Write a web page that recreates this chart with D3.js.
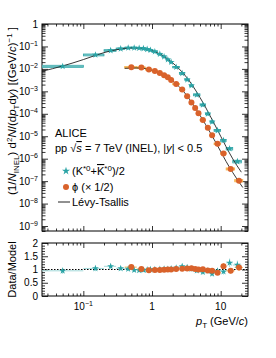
<!DOCTYPE html>
<html>
<head>
<meta charset="utf-8">
<script src="https://cdn.jsdelivr.net/npm/d3@7"></script>
<style>
  body { margin: 0; background: #fff; }
  text { font-family: "Liberation Sans", Arial, sans-serif; fill: #000; }
</style>
</head>
<body>
<div id="chart"></div>
<script>
// K*0 bins (GeV/c), values (dN/dpTdy), relative syst. and Data/Model
const kEdges = [0, 0.1, 0.2, 0.3, 0.4, 0.5, 0.6, 0.7, 0.8, 0.9, 1.0, 1.2, 1.4, 1.6, 1.8, 2.0,
                2.5, 3.0, 3.5, 4.0, 5.0, 6.0, 7.0, 8.0, 10, 12, 15, 20]
const kVal = [0.0130, 0.042, 0.066, 0.079, 0.086, 0.087, 0.085, 0.081, 0.075, 0.069, 0.059,
              0.046, 0.035, 0.026, 0.020, 0.012, 0.0063, 0.0033, 0.0018, 7.0e-4, 2.5e-4,
              1.0e-4, 4.4e-5, 1.8e-5, 6.5e-6, 2.8e-6, 7.5e-7]
const kSys = [0.12, 0.10, 0.09, 0.08, 0.08, 0.08, 0.08, 0.08, 0.08, 0.08, 0.08, 0.08, 0.08,
              0.08, 0.08, 0.08, 0.09, 0.09, 0.09, 0.10, 0.10, 0.10, 0.11, 0.11, 0.12, 0.13, 0.14]
const kRatio = [0.95, 1.04, 1.12, 1.04, 1.02, 0.98, 0.97, 0.98, 0.99, 1.00, 1.00, 1.01, 1.02,
                1.01, 1.03, 1.06, 1.12, 1.08, 1.02, 0.96, 0.90, 0.95, 0.84, 0.95, 0.92, 1.25, 1.17]

// phi bins, values (x 1/2), relative syst. and Data/Model
const phiEdges = [0.4, 0.6, 0.8, 1.0, 1.2, 1.4, 1.6, 1.8, 2.0, 2.5, 3.0, 3.5, 4.0, 4.5, 5.0,
                  6.0, 7.0, 8.0, 10, 12, 16, 21]
const phiVal = [0.0118, 0.0114, 0.0094, 0.0080, 0.0065, 0.0052, 0.0042, 0.0032, 0.0021, 0.0012,
                6.0e-4, 3.2e-4, 1.8e-4, 1.05e-4, 5.3e-5, 2.4e-5, 1.1e-5, 4.6e-6, 1.7e-6,
                3.5e-7, 1.05e-7]
const phiSys = [0.09, 0.08, 0.07, 0.07, 0.07, 0.07, 0.07, 0.07, 0.07, 0.07, 0.07, 0.07, 0.08,
                0.08, 0.08, 0.08, 0.09, 0.09, 0.10, 0.11, 0.12]
const phiRatio = [1.09, 1.02, 0.97, 0.98, 0.98, 0.99, 1.00, 1.00, 1.02, 1.03, 1.04, 1.05, 1.02,
                  1.00, 1.01, 0.96, 0.95, 0.88, 1.12, 0.95, 1.08]

// Levy-Tsallis curves
const kFitPt = [0.025, 0.05, 0.1, 0.15, 0.2, 0.3, 0.4, 0.5, 0.6, 0.7, 0.8, 1.0, 1.2, 1.5, 2.0,
                2.5, 3.0, 3.5, 4.0, 5.0, 6.0, 7.0, 8.0, 10, 12, 15, 20]
const kFitVal = [0.0078, 0.0135, 0.026, 0.040, 0.053, 0.071, 0.082, 0.087, 0.087, 0.085, 0.080,
                 0.066, 0.052, 0.036, 0.0185, 0.0098, 0.0053, 0.0029, 0.0016, 5.3e-4, 2.0e-4,
                 8.2e-5, 3.8e-5, 1.0e-5, 3.4e-6, 9.8e-7, 2.5e-7]
const phiFitPt = [0.4, 0.5, 0.6, 0.7, 0.8, 1.0, 1.2, 1.5, 2.0, 2.5, 3.0, 3.5, 4.0, 5.0, 6.0,
                  7.0, 8.0, 10, 12, 15, 21]
const phiFitVal = [0.0106, 0.0109, 0.0110, 0.0108, 0.0103, 0.0087, 0.0073, 0.0052, 0.0029,
                   0.0016, 8.5e-4, 4.5e-4, 2.5e-4, 8.5e-5, 3.4e-5, 1.5e-5, 7.3e-6, 2.1e-6,
                   7.5e-7, 2.4e-7, 5.2e-8]

// ticks
const yTopExp = [0, -1, -2, -3, -4, -5, -6, -7, -8, -9]
const ratioTicks = [0, 0.5, 1, 1.5, 2]
const xMajor = [0.1, 1, 10]
const xMajorLab = [["10", "\u22121"], ["1", ""], ["10", ""]]

const TEAL = "#2aa3a5", TEAL_BOX = "#a3dada"
const ORANGE = "#d9622b", ORANGE_BOX = "#f7b24a"

const L = 42, R = 248, T1 = 24, B1 = 231, T2 = 243, B2 = 296

const svg = d3.select("#chart").append("svg")
  .attr("width", 276)
  .attr("height", 358)

const x = d3.scaleLog().domain([0.025, 25]).range([L, R])
const y = d3.scaleLog().domain([6e-10, 1]).range([B1, T1])
const yR = d3.scaleLinear().domain([0, 2]).range([B2, T2])

const defs = svg.append("defs")
defs.append("clipPath").attr("id", "clipTop").append("rect")
  .attr("x", L).attr("y", T1).attr("width", R - L).attr("height", B1 - T1)
defs.append("clipPath").attr("id", "clipBot").append("rect")
  .attr("x", L).attr("y", T2).attr("width", R - L).attr("height", B2 - T2)

// log minor tick values
function logMinor(lo, hi) {
  const out = []
  for (let e = Math.floor(Math.log10(lo)); e <= Math.ceil(Math.log10(hi)); e++) {
    for (let m = 2; m <= 9; m++) {
      const v = m * Math.pow(10, e)
      if (v >= lo && v <= hi) out.push(v)
    }
  }
  return out
}
const xMinor = logMinor(0.025, 25)
const yMinor = logMinor(6e-10, 1)
const rMinor = d3.range(0, 2.001, 0.1).filter(v => ratioTicks.indexOf(Math.round(v * 10) / 10) < 0)

function ticks(axis, vals, size, tx, ty) {
  const g = svg.append("g")
    .attr("transform", `translate(${tx},${ty})`)
    .call(axis.tickValues(vals).tickSize(-size).tickFormat(""))
  g.select(".domain").remove()
  g.selectAll("line").attr("stroke", "#000").attr("stroke-width", 0.8)
}

// top panel ticks
ticks(d3.axisBottom(x), xMajor, 5, 0, B1)
ticks(d3.axisBottom(x), xMinor, 2.5, 0, B1)
ticks(d3.axisTop(x), xMajor, 5, 0, T1)
ticks(d3.axisTop(x), xMinor, 2.5, 0, T1)
ticks(d3.axisLeft(y), yTopExp.map(e => Math.pow(10, e)), 6, L, 0)
ticks(d3.axisLeft(y), yMinor, 3.5, L, 0)
ticks(d3.axisRight(y), yTopExp.map(e => Math.pow(10, e)), 6, R, 0)
ticks(d3.axisRight(y), yMinor, 3.5, R, 0)

// bottom panel ticks
ticks(d3.axisBottom(x), xMajor, 5, 0, B2)
ticks(d3.axisBottom(x), xMinor, 2.5, 0, B2)
ticks(d3.axisTop(x), xMajor, 5, 0, T2)
ticks(d3.axisTop(x), xMinor, 2.5, 0, T2)
ticks(d3.axisLeft(yR), ratioTicks, 6, L, 0)
ticks(d3.axisLeft(yR), rMinor, 3, L, 0)
ticks(d3.axisRight(yR), ratioTicks, 6, R, 0)
ticks(d3.axisRight(yR), rMinor, 3, R, 0)

// frames
svg.append("rect").attr("x", L).attr("y", T1).attr("width", R - L).attr("height", B1 - T1)
  .attr("fill", "none").attr("stroke", "#000").attr("stroke-width", 1)
svg.append("rect").attr("x", L).attr("y", T2).attr("width", R - L).attr("height", B2 - T2)
  .attr("fill", "none").attr("stroke", "#000").attr("stroke-width", 1)

// y tick labels, top panel
yTopExp.forEach(e => {
  const t = svg.append("text")
    .attr("x", 38).attr("y", y(Math.pow(10, e)) + 3.5)
    .attr("text-anchor", "end").attr("font-size", 10)
  if (e === 0) { t.text("1"); return }
  t.append("tspan").text("10")
  t.append("tspan").attr("dy", -4).attr("font-size", 7).text("\u2212" + (-e))
})

// y tick labels, ratio panel
ratioTicks.forEach(v => {
  svg.append("text")
    .attr("x", 38).attr("y", yR(v) + 3.5)
    .attr("text-anchor", "end").attr("font-size", 10)
    .text(v)
})

// x tick labels
xMajor.forEach((v, i) => {
  const t = svg.append("text")
    .attr("x", x(v)).attr("y", 310)
    .attr("text-anchor", "middle").attr("font-size", 10)
  t.append("tspan").text(xMajorLab[i][0])
  if (xMajorLab[i][1]) t.append("tspan").attr("dy", -4).attr("font-size", 7).text(xMajorLab[i][1])
})

// axis titles
const xt = svg.append("text").attr("x", R).attr("y", 325).attr("text-anchor", "end").attr("font-size", 11)
xt.append("tspan").attr("font-style", "italic").text("p")
xt.append("tspan").attr("dy", 3).attr("font-size", 8).text("T")
xt.append("tspan").attr("dy", -3).text(" (GeV/")
xt.append("tspan").attr("font-style", "italic").text("c")
xt.append("tspan").text(")")

const yt = svg.append("text")
  .attr("transform", "translate(16,27) rotate(-90)")
  .attr("text-anchor", "end").attr("font-size", 11.5)
yt.append("tspan").text("(1/")
yt.append("tspan").attr("font-style", "italic").text("N")
yt.append("tspan").attr("dy", 3).attr("font-size", 8).text("INEL")
yt.append("tspan").attr("dy", -3).text(") d")
yt.append("tspan").attr("dy", -4).attr("font-size", 8).text("2")
yt.append("tspan").attr("dy", 4).attr("font-style", "italic").text("N")
yt.append("tspan").text("/(d")
yt.append("tspan").attr("font-style", "italic").text("p")
yt.append("tspan").attr("dy", 3).attr("font-size", 8).text("T")
yt.append("tspan").attr("dy", -3).text("d")
yt.append("tspan").attr("font-style", "italic").text("y")
yt.append("tspan").text(") [(GeV/")
yt.append("tspan").attr("font-style", "italic").text("c")
yt.append("tspan").text(")")
yt.append("tspan").attr("dy", -4).attr("font-size", 8).text("\u22121")
yt.append("tspan").attr("dy", 4).text(" ]")

svg.append("text")
  .attr("transform", `translate(16,${(T2 + B2) / 2}) rotate(-90)`)
  .attr("text-anchor", "middle").attr("font-size", 11)
  .text("Data/Model")

// data
const kData = kVal.map((v, i) => ({
  lo: Math.max(kEdges[i], 0.001), hi: kEdges[i + 1],
  pt: kEdges[i] === 0 ? (kEdges[i + 1]) / 2 : (kEdges[i] + kEdges[i + 1]) / 2,
  v: v, s: kSys[i], r: kRatio[i]
}))
const phiData = phiVal.map((v, i) => ({
  lo: phiEdges[i], hi: phiEdges[i + 1], pt: (phiEdges[i] + phiEdges[i + 1]) / 2,
  v: v, s: phiSys[i], r: phiRatio[i]
}))

const gTop = svg.append("g").attr("clip-path", "url(#clipTop)")
const gBot = svg.append("g").attr("clip-path", "url(#clipBot)")

// ratio reference line
gBot.append("line")
  .attr("x1", L).attr("x2", R).attr("y1", yR(1)).attr("y2", yR(1))
  .attr("stroke", "#000").attr("stroke-width", 1).attr("stroke-dasharray", "1.5,1.5")

// syst. boxes (top panel)
function boxes(g, data, fill, stroke) {
  g.selectAll(null).data(data).enter().append("rect")
    .attr("x", d => x(d.lo))
    .attr("width", d => x(d.hi) - x(d.lo))
    .attr("y", d => y(d.v * (1 + d.s)))
    .attr("height", d => y(d.v * (1 - d.s)) - y(d.v * (1 + d.s)))
    .attr("fill", fill).attr("fill-opacity", 0.8)
    .attr("stroke", stroke).attr("stroke-width", 0.7)
  g.selectAll(null).data(data).enter().append("line")
    .attr("x1", d => x(d.lo)).attr("x2", d => x(d.hi))
    .attr("y1", d => y(d.v)).attr("y2", d => y(d.v))
    .attr("stroke", stroke).attr("stroke-width", 0.7)
}
boxes(gTop, kData, TEAL_BOX, TEAL)
boxes(gTop, phiData, ORANGE_BOX, ORANGE_BOX)

// ratio error bars
function bars(g, data, color) {
  g.selectAll(null).data(data).enter().append("line")
    .attr("x1", d => x(d.lo)).attr("x2", d => x(d.hi))
    .attr("y1", d => yR(d.r)).attr("y2", d => yR(d.r))
    .attr("stroke", color).attr("stroke-width", 1)
  g.selectAll(null).data(data).enter().append("line")
    .attr("x1", d => x(d.pt)).attr("x2", d => x(d.pt))
    .attr("y1", d => yR(d.r * (1 - d.s))).attr("y2", d => yR(d.r * (1 + d.s)))
    .attr("stroke", color).attr("stroke-width", 1)
}
bars(gBot, kData, TEAL_BOX)
bars(gBot, phiData, ORANGE_BOX)

// Levy-Tsallis
const line = d3.line().x(d => x(d[0])).y(d => y(d[1])).curve(d3.curveMonotoneX)
gTop.append("path").datum(kFitPt.map((p, i) => [p, kFitVal[i]]))
  .attr("d", line).attr("fill", "none").attr("stroke", "#222").attr("stroke-width", 0.9)
gTop.append("path").datum(phiFitPt.map((p, i) => [p, phiFitVal[i]]))
  .attr("d", line).attr("fill", "none").attr("stroke", "#222").attr("stroke-width", 0.9)

// markers
const star = d3.symbol().type(d3.symbolStar).size(15)
gTop.selectAll(null).data(kData).enter().append("path")
  .attr("d", star).attr("transform", d => `translate(${x(d.pt)},${y(d.v)})`)
  .attr("fill", TEAL)
gTop.selectAll(null).data(phiData).enter().append("circle")
  .attr("cx", d => x(d.pt)).attr("cy", d => y(d.v)).attr("r", 3)
  .attr("fill", ORANGE)
gBot.selectAll(null).data(kData).enter().append("path")
  .attr("d", star).attr("transform", d => `translate(${x(d.pt)},${yR(d.r)})`)
  .attr("fill", TEAL)
gBot.selectAll(null).data(phiData).enter().append("circle")
  .attr("cx", d => x(d.pt)).attr("cy", d => yR(d.r)).attr("r", 3)
  .attr("fill", ORANGE)

// legend
svg.append("text").attr("x", 55).attr("y", 137).attr("font-size", 11).text("ALICE")
const pp = svg.append("text").attr("x", 55).attr("y", 152).attr("font-size", 11)
pp.append("tspan").text("pp \u221A")
pp.append("tspan").attr("font-style", "italic").attr("text-decoration", "overline").text("s")
pp.append("tspan").text(" = 7 TeV (INEL), |")
pp.append("tspan").attr("font-style", "italic").text("y")
pp.append("tspan").text("| < 0.5")

svg.append("path").attr("d", d3.symbol().type(d3.symbolStar).size(20)).attr("transform", "translate(66,171)").attr("fill", TEAL)
const kl = svg.append("text").attr("x", 72).attr("y", 175).attr("font-size", 11)
kl.append("tspan").text("(K")
kl.append("tspan").attr("dy", -4).attr("font-size", 8).text("*0")
kl.append("tspan").attr("dy", 4).text("+")
kl.append("tspan").attr("text-decoration", "overline").text("K")
kl.append("tspan").attr("dy", -4).attr("font-size", 8).text("*0")
kl.append("tspan").attr("dy", 4).text(")/2")

svg.append("circle").attr("cx", 66).attr("cy", 187).attr("r", 3).attr("fill", ORANGE)
svg.append("text").attr("x", 72).attr("y", 191).attr("font-size", 11).text("\u03D5 (\u00D7 1/2)")

svg.append("line").attr("x1", 58).attr("x2", 70).attr("y1", 202).attr("y2", 202)
  .attr("stroke", "#222").attr("stroke-width", 1)
svg.append("text").attr("x", 72).attr("y", 206).attr("font-size", 11).text("L\u00E9vy-Tsallis")
</script>
</body>
</html>
